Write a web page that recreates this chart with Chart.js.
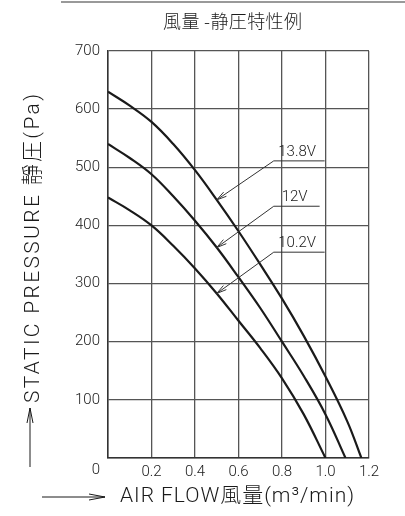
<!DOCTYPE html>
<html>
<head>
<meta charset="utf-8">
<script src="https://cdn.jsdelivr.net/npm/chart.js@4.4.1/dist/chart.umd.min.js"></script>
<style>
  html, body { margin: 0; padding: 0; background: #fff; }
  #c { display: block; }
</style>
</head>
<body>
<canvas id="c" width="405" height="516"></canvas>
<script>
// chart text
const TITLE = '風量 -静圧特性例';
const X_TITLE = 'AIR FLOW風量(m³/min)';
const Y_TITLE = 'STATIC PRESSURE 靜圧(Pa)';

// axis ticks
const X_TICKS = [0, 0.2, 0.4, 0.6, 0.8, 1.0, 1.2];
const Y_TICKS = [0, 100, 200, 300, 400, 500, 600, 700];

// fan curves (flow m3/min, pressure Pa)
const VOLTS = ['13.8V', '12V', '10.2V'];
const FLOW_138 = [0, 0.1, 0.2, 0.3, 0.4, 0.5, 0.6, 0.7, 0.8, 0.9, 1.0, 1.1, 1.165];
const PRES_138 = [630, 606, 578, 540, 495, 444, 390, 333, 274, 210, 140, 63, 0];
const FLOW_120 = [0, 0.1, 0.2, 0.3, 0.4, 0.5, 0.6, 0.7, 0.8, 0.9, 1.0, 1.092];
const PRES_120 = [540, 516, 488, 450, 408, 362, 311, 258, 200, 141, 75, 0];
const FLOW_102 = [0, 0.1, 0.2, 0.3, 0.4, 0.5, 0.6, 0.7, 0.8, 0.9, 1.0];
const PRES_102 = [448, 426, 400, 365, 326, 283, 236, 189, 137, 75, 0];

// label leaders: arrow tip on each curve and the underline under each label
const TAG_TIP_X = [0.5, 0.5, 0.5];
const TAG_TIP_Y = [444, 362, 283];
const TAG_LINE_Y = [511, 433, 354];
const TAG_X0 = [0.762, 0.762, 0.762];
const TAG_X1 = [0.996, 0.973, 0.996];

const FONT = 'Roboto, "DejaVu Sans", sans-serif';
const CJK = 'Roboto, "Noto Sans CJK JP", sans-serif';
const INK = '#1a1a1a';

const pts = (xs, ys) => xs.map((x, i) => ({ x, y: ys[i] }));

// text spread to a given width
function fitText(ctx, text, x, y, w) {
  ctx.letterSpacing = '0px';
  const m = ctx.measureText(text).width;
  const n = [...text].length;
  ctx.letterSpacing = ((w - m) / (n - 1)) + 'px';
  ctx.fillText(text, x, y);
  ctx.letterSpacing = '0px';
}

function arrowHead(ctx, fx, fy, tx, ty, len, half) {
  const a = Math.atan2(ty - fy, tx - fx);
  const bx = tx - len * Math.cos(a), by = ty - len * Math.sin(a);
  const nx = -Math.sin(a) * half, ny = Math.cos(a) * half;
  ctx.beginPath();
  ctx.moveTo(bx + nx, by + ny);
  ctx.lineTo(tx, ty);
  ctx.lineTo(bx - nx, by - ny);
  ctx.stroke();
}

const decor = {
  id: 'decor',
  afterDraw(chart) {
    const ctx = chart.ctx;
    const xs = chart.scales.x, ys = chart.scales.y;
    const area = chart.chartArea;
    ctx.save();

    // rule at the very top
    ctx.strokeStyle = '#777';
    ctx.lineWidth = 1.5;
    ctx.beginPath();
    ctx.moveTo(61, 2);
    ctx.lineTo(405, 2);
    ctx.stroke();

    // title
    ctx.fillStyle = INK;
    ctx.font = '300 18px "Noto Sans CJK JP", sans-serif';
    ctx.textAlign = 'left';
    ctx.textBaseline = 'middle';
    fitText(ctx, TITLE, 163, 21, 139);

    // shared origin label
    ctx.font = '300 15px ' + FONT;
    ctx.textAlign = 'center';
    ctx.fillText('0', area.left - 12, area.bottom + 12);

    // x title with arrow
    ctx.font = '300 21px ' + CJK;
    ctx.textAlign = 'left';
    fitText(ctx, X_TITLE, 120, 497, 234);
    ctx.strokeStyle = INK;
    ctx.lineWidth = 1;
    ctx.beginPath();
    ctx.moveTo(42, 497);
    ctx.lineTo(105, 497);
    ctx.stroke();
    arrowHead(ctx, 42, 497, 105, 497, 16, 3);

    // y title with arrow
    ctx.save();
    ctx.translate(34, 403);
    ctx.rotate(-Math.PI / 2);
    fitText(ctx, Y_TITLE, 0, 0, 309);
    ctx.restore();
    ctx.beginPath();
    ctx.moveTo(30, 467);
    ctx.lineTo(30, 408);
    ctx.stroke();
    arrowHead(ctx, 30, 467, 30, 408, 15, 3);

    // voltage labels with leaders
    ctx.font = '300 15px ' + FONT;
    ctx.textAlign = 'center';
    ctx.textBaseline = 'bottom';
    ctx.strokeStyle = '#333';
    ctx.lineWidth = 1;
    VOLTS.forEach((v, i) => {
      const x0 = xs.getPixelForValue(TAG_X0[i]);
      const x1 = xs.getPixelForValue(TAG_X1[i]);
      const ly = ys.getPixelForValue(TAG_LINE_Y[i]);
      const tx = xs.getPixelForValue(TAG_TIP_X[i]);
      const ty = ys.getPixelForValue(TAG_TIP_Y[i]);
      ctx.beginPath();
      ctx.moveTo(x1, ly);
      ctx.lineTo(x0, ly);
      ctx.lineTo(tx, ty);
      ctx.stroke();
      arrowHead(ctx, x0, ly, tx, ty, 10, 2.5);
      ctx.fillText(v, (x0 + x1) / 2 - 2, ly - 1);
    });

    ctx.restore();
  }
};

const curve = (data) => ({
  data,
  borderColor: INK,
  borderWidth: 2.2,
  pointRadius: 0,
  tension: 0.4,
  fill: false
});

const tickFont = { family: FONT, size: 15, weight: 300 };

new Chart(document.getElementById('c'), {
  type: 'line',
  data: {
    datasets: [
      curve(pts(FLOW_138, PRES_138)),
      curve(pts(FLOW_120, PRES_120)),
      curve(pts(FLOW_102, PRES_102))
    ]
  },
  options: {
    responsive: false,
    animation: false,
    layout: { padding: { top: 51, right: 36, left: 0, bottom: 0 } },
    plugins: { legend: { display: false }, tooltip: { enabled: false } },
    scales: {
      x: {
        type: 'linear',
        min: 0,
        max: 1.2,
        afterBuildTicks: s => { s.ticks = X_TICKS.map(v => ({ value: v })); },
        afterFit: s => { s.height = 58; },
        ticks: {
          callback: v => v === 0 ? '' : v.toFixed(1),
          font: tickFont,
          color: INK,
          padding: 5,
          maxRotation: 0
        },
        grid: { color: '#555', lineWidth: 1.3, drawTicks: false },
        border: { color: '#333', width: 1.5 }
      },
      y: {
        min: 0,
        max: 700,
        afterBuildTicks: s => { s.ticks = Y_TICKS.map(v => ({ value: v })); },
        afterFit: s => { s.width = 108; },
        ticks: {
          callback: v => v === 0 ? '' : v,
          font: tickFont,
          color: INK,
          padding: 8
        },
        grid: { color: '#555', lineWidth: 1.3, drawTicks: false },
        border: { color: '#333', width: 1.5 }
      }
    }
  },
  plugins: [decor]
});
</script>
</body>
</html>
